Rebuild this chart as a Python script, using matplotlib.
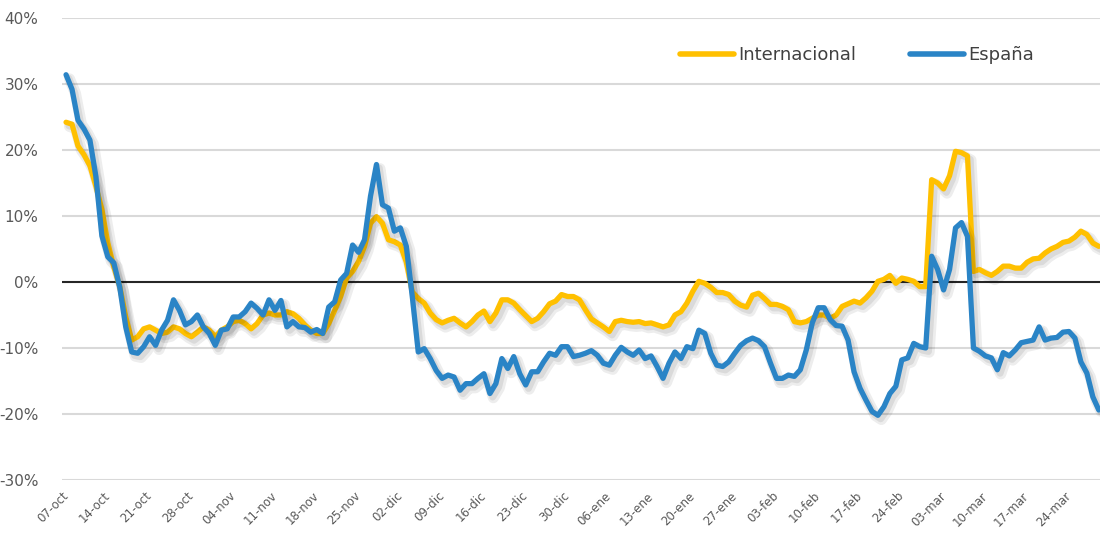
import matplotlib
matplotlib.use("Agg")
import matplotlib.pyplot as plt
import matplotlib.patheffects as pe
from matplotlib.ticker import FuncFormatter, FixedLocator

# weekly tick labels (one every 7 days from 07-oct)
tick_labels = ["07-oct", "14-oct", "21-oct", "28-oct", "04-nov", "11-nov", "18-nov",
               "25-nov", "02-dic", "09-dic", "16-dic", "23-dic", "30-dic", "06-ene",
               "13-ene", "20-ene", "27-ene", "03-feb", "10-feb", "17-feb", "24-feb",
               "03-mar", "10-mar", "17-mar", "24-mar"]

# daily values, % variation
internacional = [
    24.2, 23.9, 20.6, 19.3, 17.6, 14.5, 11.0, 5.9, 2.3, -0.7,
    -5.3, -8.8, -8.3, -7.1, -6.8, -7.3, -7.8, -7.6, -6.8, -7.1,
    -7.8, -8.3, -7.6, -6.8, -7.3, -8.3, -7.3, -6.8, -6.0, -5.8,
    -6.3, -7.1, -6.3, -5.0, -4.7, -5.0, -5.0, -4.5, -4.8, -5.5,
    -6.5, -7.3, -7.8, -7.8, -6.3, -4.3, -2.2, 0.6, 1.6, 3.1,
    5.4, 8.9, 9.9, 8.9, 6.4, 6.1, 5.6, 3.0, -1.5, -2.5,
    -3.2, -4.7, -5.7, -6.2, -5.8, -5.5, -6.2, -6.8, -6.0, -5.0,
    -4.4, -6.0, -4.7, -2.7, -2.7, -3.2, -4.2, -5.1, -6.0, -5.5,
    -4.5, -3.3, -2.9, -1.9, -2.2, -2.2, -2.7, -4.2, -5.6, -6.2,
    -6.8, -7.5, -6.0, -5.8, -6.0, -6.1, -6.0, -6.3, -6.2, -6.5,
    -6.8, -6.5, -5.0, -4.5, -3.2, -1.4, 0.1, -0.2, -0.8, -1.6,
    -1.6, -1.9, -2.9, -3.5, -3.8, -2.0, -1.7, -2.5, -3.4, -3.4,
    -3.7, -4.2, -6.0, -6.2, -6.0, -5.5, -5.0, -5.0, -5.5, -5.0,
    -3.7, -3.3, -2.9, -3.2, -2.4, -1.4, 0.1, 0.4, 1.0, -0.2,
    0.6, 0.4, 0.1, -0.7, -0.7, 15.5, 15.0, 14.1, 16.1, 19.8,
    19.6, 19.1, 1.6, 1.9, 1.4, 1.0, 1.6, 2.4, 2.4, 2.1,
    2.1, 3.0, 3.5, 3.6, 4.4, 5.0, 5.4, 6.0, 6.2, 6.8,
    7.7, 7.2, 5.9, 5.4,
]

espana = [
    31.4, 29.2, 24.5, 23.2, 21.5, 16.0, 7.0, 3.8, 2.9, -0.8,
    -6.8, -10.6, -10.8, -9.8, -8.3, -9.6, -7.3, -5.8, -2.7, -4.3,
    -6.5, -6.0, -5.0, -6.8, -7.8, -9.6, -7.3, -7.1, -5.3, -5.3,
    -4.5, -3.2, -4.0, -5.0, -2.7, -4.3, -2.8, -6.8, -6.0, -6.8,
    -6.9, -7.6, -7.2, -7.8, -3.8, -3.0, 0.3, 1.3, 5.6, 4.5,
    6.4, 13.0, 17.8, 11.7, 11.2, 7.7, 8.2, 5.4, -2.2, -10.6,
    -10.1, -11.6, -13.4, -14.6, -14.1, -14.4, -16.4, -15.4, -15.4, -14.6,
    -13.9, -16.9, -15.4, -11.6, -13.1, -11.3, -13.9, -15.6, -13.6, -13.6,
    -12.1, -10.8, -11.1, -9.8, -9.8, -11.3, -11.1, -10.8, -10.4, -11.1,
    -12.3, -12.6, -11.1, -9.9, -10.6, -11.1, -10.3, -11.6, -11.2, -12.8,
    -14.6, -12.3, -10.6, -11.6, -9.8, -10.1, -7.3, -7.8, -10.8, -12.6,
    -12.8, -12.1, -10.8, -9.6, -8.9, -8.5, -8.9, -9.8, -12.3, -14.6,
    -14.6, -14.1, -14.3, -13.3, -10.3, -6.2, -3.9, -3.9, -5.7, -6.6,
    -6.7, -8.8, -13.6, -16.1, -17.9, -19.6, -20.2, -18.9, -16.9, -15.8,
    -11.8, -11.5, -9.3, -9.8, -10.0, 3.9, 1.9, -1.2, 1.9, 8.2,
    9.0, 6.9, -10.0, -10.5, -11.2, -11.5, -13.3, -10.7, -11.2, -10.3,
    -9.2, -9.0, -8.8, -6.8, -8.8, -8.5, -8.4, -7.6, -7.5, -8.5,
    -12.1, -13.8, -17.4, -19.4,
]

days = list(range(len(espana)))
y_ticks = [-30, -20, -10, 0, 10, 20, 30, 40]

plt.rcParams["font.family"] = ["DejaVu Sans"]
plt.rcParams["axes.unicode_minus"] = False

fig = plt.figure(figsize=(11, 5.35), dpi=100)
ax = fig.add_axes([0.0564, 0.1028, 0.9436, 0.8636])

for v in y_ticks:
    if v == 0:
        ax.axhline(v, color="#262626", lw=1.5, zorder=2)
    else:
        ax.axhline(v, color="#d9d9d9", lw=1.5, zorder=1)

# soft drop shadow under the lines
shadow = [pe.SimpleLineShadow(offset=(2.5, -3), shadow_color="black", alpha=0.07, linewidth=8),
          pe.SimpleLineShadow(offset=(2, -2.5), shadow_color="black", alpha=0.08, linewidth=5),
          pe.Normal()]

ax.plot(days, internacional, color="#FFC000", lw=3.8, label="Internacional",
        solid_joinstyle="round", solid_capstyle="round", path_effects=shadow, zorder=3)
ax.plot(days, espana, color="#2A84C6", lw=3.8, label="España",
        solid_joinstyle="round", solid_capstyle="round", path_effects=shadow, zorder=4)

ax.set_xlim(-0.67, 173.2)
ax.set_ylim(-30, 40)
ax.yaxis.set_major_locator(FixedLocator(y_ticks))
ax.yaxis.set_major_formatter(FuncFormatter(lambda v, p: f"{v:.0f}%"))
ax.set_xticks([7 * i for i in range(len(tick_labels))])
ax.set_xticklabels(tick_labels, rotation=45, ha="right", va="center",
                   rotation_mode="anchor")
ax.tick_params(axis="y", length=0, pad=17, labelsize=11, labelcolor="#595959")
ax.tick_params(axis="x", length=0, pad=10, labelsize=8.5, labelcolor="#595959")
for s in ax.spines.values():
    s.set_visible(False)

leg = fig.legend(loc="center", bbox_to_anchor=(0.779, 0.897), ncol=2, frameon=False,
                 handlelength=3.0, handletextpad=0.2, columnspacing=3.0,
                 prop={"size": 13})
for t in leg.get_texts():
    t.set_color("#404040")
for h in leg.get_lines():
    h.set_linewidth(4)
    h.set_path_effects([])

fig.savefig("out.png", dpi=100)
